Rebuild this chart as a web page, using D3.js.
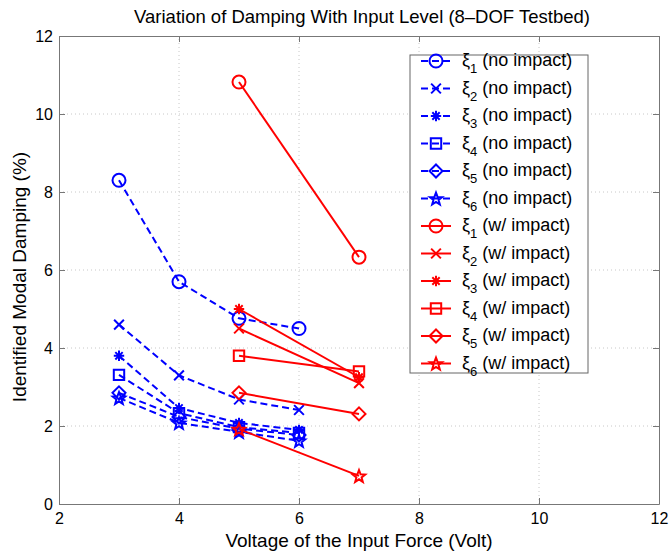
<!DOCTYPE html>
<html><head><meta charset="utf-8">
<script src="https://cdn.jsdelivr.net/npm/d3@7"></script>
<style>body{margin:0;background:#fff}text{font-family:"Liberation Sans",Arial,sans-serif}</style>
</head><body>
<script>
const voltsNoImpact = [3, 4, 5, 6];
const voltsImpact = [5, 7];
const noImpact = [
  [8.3, 5.7, 4.76, 4.5],
  [4.6, 3.3, 2.68, 2.41],
  [3.8, 2.46, 2.08, 1.9],
  [3.31, 2.33, 1.97, 1.82],
  [2.85, 2.23, 1.93, 1.77],
  [2.72, 2.08, 1.85, 1.62]
];
const withImpact = [
  [10.82, 6.33],
  [4.5, 3.1],
  [5.0, 3.25],
  [3.8, 3.4],
  [2.85, 2.31],
  [1.92, 0.72]
];
const markers = ["circle", "x", "asterisk", "square", "diamond", "star"];
const xTicks = [2, 4, 6, 8, 10, 12];
const yTicks = [0, 2, 4, 6, 8, 10, 12];
const title = "Variation of Damping With Input Level (8\u2013DOF Testbed)";
const xLabel = "Voltage of the Input Force (Volt)";
const yLabel = "Identified Modal Damping (%)";

const W = 670, H = 552;
const m = {l: 59, r: 11, t: 36, b: 48};
const svg = d3.select("body").append("svg").attr("width", W).attr("height", H);
const x = d3.scaleLinear().domain([2, 12]).range([m.l, W - m.r]);
const y = d3.scaleLinear().domain([0, 12]).range([H - m.b, m.t]);

// grid
const g = svg.append("g");
g.selectAll(".gx").data(xTicks.slice(1, -1)).join("line")
  .attr("x1", d => x(d)).attr("x2", d => x(d)).attr("y1", y(0)).attr("y2", y(12))
  .attr("stroke", "#c8c8c8").attr("stroke-dasharray", "1,3").attr("stroke-width", 1);
g.selectAll(".gy").data(yTicks.slice(1, -1)).join("line")
  .attr("y1", d => y(d)).attr("y2", d => y(d)).attr("x1", x(2)).attr("x2", x(12))
  .attr("stroke", "#c8c8c8").attr("stroke-dasharray", "1,3").attr("stroke-width", 1);

// axes
const ax = svg.append("g").attr("transform", `translate(0,${y(0)})`)
  .call(d3.axisBottom(x).tickValues(xTicks).tickSizeInner(-6).tickSizeOuter(0).tickPadding(9));
const ay = svg.append("g").attr("transform", `translate(${x(2)},0)`)
  .call(d3.axisLeft(y).tickValues(yTicks).tickSizeInner(-6).tickSizeOuter(0).tickPadding(6));
const axt = svg.append("g").attr("transform", `translate(0,${y(12)})`)
  .call(d3.axisTop(x).tickValues(xTicks).tickSizeInner(-6).tickSizeOuter(0).tickFormat(""));
const ayr = svg.append("g").attr("transform", `translate(${x(12)},0)`)
  .call(d3.axisRight(y).tickValues(yTicks).tickSizeInner(-6).tickSizeOuter(0).tickFormat(""));
[ax, ay, axt, ayr].forEach(a => {
  a.select(".domain").attr("stroke", "#777");
  a.selectAll("line").attr("stroke", "#777");
  a.selectAll("text").attr("font-size", 16).attr("fill", "#000").style("font-family", "Liberation Sans, Arial, sans-serif");
});

function markerPath(type, s) {
  const h = s / 2;
  switch (type) {
    case "circle": return d3.symbol(d3.symbolCircle, Math.PI * h * h)();
    case "square": { const a = h * 0.8; return `M${-a},${-a}H${a}V${a}H${-a}Z`; }
    case "diamond": return `M0,${-h}L${h},0L0,${h}L${-h},0Z`;
    case "x": { const a = h * 0.75; return `M${-a},${-a}L${a},${a}M${-a},${a}L${a},${-a}`; }
    case "asterisk": {
      let p = ""; for (let i = 0; i < 4; i++) { const t = i * Math.PI / 4; const c = Math.cos(t) * h * 0.8, sn = Math.sin(t) * h * 0.8; p += `M${-c},${-sn}L${c},${sn}`; } return p; }
    case "star": {
      const pts = []; for (let i = 0; i < 10; i++) { const r = i % 2 ? h * 0.42 : h; const t = -Math.PI / 2 + i * Math.PI / 5; pts.push([r * Math.cos(t), r * Math.sin(t) + h * 0.1]); }
      return "M" + pts.map(p => p.join(",")).join("L") + "Z"; }
  }
}

const line = d3.line().x(d => x(d[0])).y(d => y(d[1]));
function drawSeries(xs, vals, color, dash, mk) {
  const pts = xs.map((v, i) => [v, vals[i]]);
  svg.append("path").datum(pts).attr("d", line).attr("fill", "none")
    .attr("stroke", color).attr("stroke-width", 2).attr("stroke-dasharray", dash);
  svg.append("g").selectAll("path").data(pts).join("path")
    .attr("transform", d => `translate(${x(d[0])},${y(d[1])})`)
    .attr("d", markerPath(mk, 13)).attr("fill", "none").attr("stroke", color).attr("stroke-width", 2);
}
noImpact.forEach((s, i) => drawSeries(voltsNoImpact, s, "#0000ff", "7,4", markers[i]));
withImpact.forEach((s, i) => drawSeries(voltsImpact, s, "#ff0000", null, markers[i]));

// legend
const lg = svg.append("g");
lg.append("rect").attr("x", 410).attr("y", 55).attr("width", 178).attr("height", 318)
  .attr("fill", "#fff").attr("stroke", "#666").attr("stroke-width", 1);
const entries = [];
markers.forEach((mk, i) => entries.push({n: i + 1, txt: " (no impact)", color: "#0000ff", dash: "7,4", mk}));
markers.forEach((mk, i) => entries.push({n: i + 1, txt: " (w/ impact)", color: "#ff0000", dash: null, mk}));
entries.forEach((e, i) => {
  const cy = 61 + i * 27.5;
  lg.append("line").attr("x1", 421).attr("x2", 451).attr("y1", cy).attr("y2", cy)
    .attr("stroke", e.color).attr("stroke-width", 2).attr("stroke-dasharray", e.dash);
  lg.append("path").attr("transform", `translate(436,${cy})`).attr("d", markerPath(e.mk, 13))
    .attr("fill", "none").attr("stroke", e.color).attr("stroke-width", 2);
  const t = lg.append("text").attr("x", 462).attr("y", cy + 5).attr("font-size", 18).attr("fill", "#000");
  t.append("tspan").text("\u03be");
  t.append("tspan").attr("dy", 7).attr("font-size", 13).text(e.n);
  t.append("tspan").attr("dy", -7).text(e.txt);
});

// labels
svg.append("text").attr("x", (x(2) + x(12)) / 2 + 3).attr("y", 23).attr("text-anchor", "middle")
  .attr("font-size", 18.5).text(title);
svg.append("text").attr("x", (x(2) + x(12)) / 2).attr("y", 547).attr("text-anchor", "middle")
  .attr("font-size", 19).text(xLabel);
svg.append("text").attr("transform", `translate(26,${(y(0) + y(12)) / 2 + 7}) rotate(-90)`).attr("text-anchor", "middle")
  .attr("font-size", 19).text(yLabel);
</script>
</body></html>
